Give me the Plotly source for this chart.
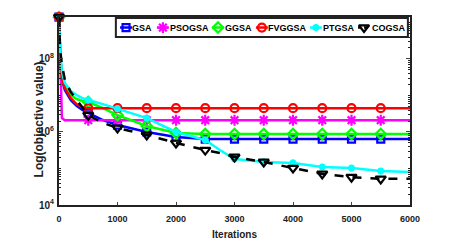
import plotly.graph_objects as go

# ---------------- data ----------------
iterations = [0, 20, 50, 100, 200, 300, 400, 500, 750, 1000, 1500, 2000,
              2500, 2750, 3000, 3500, 4000, 4500, 5000, 5500, 6000]

gsa = [1.4e9, 1.29e8, 2.7e7, 1.42e7, 7.5e6, 5.2e6, 4.0e6, 3.3e6, 2.13e6, 1.55e6,
       1.0e6, 7.3e5, 6.4e5, 6.4e5, 6.4e5, 6.4e5, 6.4e5, 6.4e5, 6.4e5, 6.4e5, 6.4e5]
psogsa = [1.4e9, 9.4e7, 2.4e6, 2.1e6, 2.1e6, 2.1e6, 2.1e6, 2.1e6, 2.1e6, 2.1e6,
          2.1e6, 2.1e6, 2.1e6, 2.1e6, 2.1e6, 2.1e6, 2.1e6, 2.1e6, 2.1e6, 2.1e6, 2.1e6]
ggsa = [1.4e9, 1.29e8, 3.0e7, 1.82e7, 1.03e7, 8.0e6, 7.1e6, 6.6e6, 4.5e6, 2.9e6,
        1.46e6, 9.4e5, 8.8e5, 8.8e5, 8.8e5, 8.8e5, 8.8e5, 8.8e5, 8.8e5, 8.8e5, 8.8e5]
fvggsa = [1.4e9, 1.29e8, 2.7e7, 1.6e7, 8.5e6, 5.8e6, 4.8e6, 4.5e6, 4.5e6, 4.5e6,
          4.5e6, 4.5e6, 4.5e6, 4.5e6, 4.5e6, 4.5e6, 4.5e6, 4.5e6, 4.5e6, 4.5e6, 4.5e6]
ptgsa = [1.4e9, 1.77e8, 4.4e7, 2.2e7, 1.33e7, 1.03e7, 8.5e6, 7.5e6, 5.8e6, 4.3e6,
         2.4e6, 1.0e6, 6.0e5, 3.2e5, 1.82e5, 1.51e5, 1.42e5, 1.10e5, 1.03e5, 8.5e4, 8.0e4]
cogsa = [1.4e9, 1.77e8, 6.9e7, 2.7e7, 1.25e7, 7.5e6, 4.5e6, 2.9e6, 1.77e6, 1.29e6,
         8.3e5, 5.0e5, 3.2e5, 2.66e5, 2.07e5, 1.51e5, 1.03e5, 7.1e4, 5.8e4, 5.2e4, 5.2e4]

series_names = ["GSA", "PSOGSA", "GGSA", "FVGGSA", "PTGSA", "COGSA"]
series_values = [gsa, psogsa, ggsa, fvggsa, ptgsa, cogsa]

x_ticks = [0, 1000, 2000, 3000, 4000, 5000, 6000]
y_ticks = [1e4, 1e6, 1e8]
y_tick_labels = ["10<sup>4</sup>", "10<sup>6</sup>", "10<sup>8</sup>"]
marker_step = 500

# ---------------- styles ----------------
styles = [
    dict(color="#0000FF", symbol="square-open", size=7, dash="solid"),
    dict(color="#FF00FF", symbol="asterisk-open", size=9, dash="solid"),
    dict(color="#00FF00", symbol="diamond-open", size=8, dash="solid"),
    dict(color="#FF0000", symbol="circle-open", size=8, dash="solid"),
    dict(color="#00FFFF", symbol="asterisk-open", size=6, dash="solid"),
    dict(color="#000000", symbol="triangle-down-open", size=9, dash="dash"),
]

FONT = "Liberation Sans, Arial, sans-serif"

fig = go.Figure()

for name, vals, st in zip(series_names, series_values, styles):
    fig.add_trace(go.Scatter(
        x=iterations, y=vals, mode="lines", name=name, showlegend=False,
        line=dict(color=st["color"], width=2.5, dash=st["dash"]),
    ))
    mx = [x for x in iterations if x % marker_step == 0 and x < iterations[-1]]
    my = [v for x, v in zip(iterations, vals) if x % marker_step == 0 and x < iterations[-1]]
    fig.add_trace(go.Scatter(
        x=mx, y=my, mode="markers", showlegend=False, cliponaxis=False,
        marker=dict(symbol=st["symbol"], size=st["size"], color=st["color"],
                    line=dict(color=st["color"], width=2.2)),
    ))

# ---------------- custom legend (plot-area fractions) ----------------
leg_box = dict(x0=0.162, x1=0.994, y0=0.894, y1=0.995)
leg_sym_x = [0.191, 0.296, 0.453, 0.578, 0.732, 0.869]
leg_text_x = [0.208, 0.316, 0.473, 0.595, 0.752, 0.892]
leg_y = 0.944
leg_half = 0.017

fig.add_shape(type="rect", xref="paper", yref="paper", **leg_box,
              line=dict(color="#222222", width=2), fillcolor="white", layer="below")

for name, st, sx, tx in zip(series_names, styles, leg_sym_x, leg_text_x):
    fig.add_trace(go.Scatter(
        x=[sx - leg_half, sx + leg_half], y=[leg_y, leg_y], mode="lines",
        xaxis="x2", yaxis="y2", showlegend=False, hoverinfo="skip",
        line=dict(color=st["color"], width=2.5, dash="solid" if st["dash"] == "solid" else "dot"),
    ))
    fig.add_trace(go.Scatter(
        x=[sx], y=[leg_y], mode="markers", xaxis="x2", yaxis="y2",
        showlegend=False, hoverinfo="skip", cliponaxis=False,
        marker=dict(symbol=st["symbol"], size=st["size"], color=st["color"],
                    line=dict(color=st["color"], width=2.2)),
    ))
    fig.add_annotation(x=tx, y=leg_y, xref="paper", yref="paper", text=name,
                       showarrow=False, xanchor="left", yanchor="middle",
                       xshift=-2,
                       font=dict(family=FONT, size=9, color="black", weight="bold"))

# axis titles
fig.add_annotation(x=-0.057, y=0.455, xref="paper", yref="paper",
                   text="Log(objective value)", textangle=-90, showarrow=False,
                   xanchor="center", yanchor="middle",
                   font=dict(family=FONT, size=12, color="#222222", weight="bold"))
fig.add_annotation(x=0.5, y=-0.155, xref="paper", yref="paper",
                   text="Iterations", showarrow=False,
                   xanchor="center", yanchor="middle",
                   font=dict(family=FONT, size=10, color="#222222", weight="bold"))

minor_y = [k * 10 ** e for e in range(4, 10) for k in range(2, 10) if k * 10 ** e < 10 ** 9.15]
minor_y += [1e5, 1e7, 1e9]

fig.update_layout(
    width=452, height=245,
    margin=dict(l=59, r=42, t=17, b=40),
    paper_bgcolor="white", plot_bgcolor="white",
    font=dict(family=FONT, size=9, color="#222222", weight="bold"),
    showlegend=False,
    xaxis=dict(range=[0, 6000], tickvals=x_ticks, ticks="inside", ticklen=3,
               tickwidth=1, showline=True, linecolor="#222222", linewidth=2,
               mirror=True, showgrid=False, zeroline=False, ticklabelstandoff=4,
               tickfont=dict(family=FONT, size=9, weight="bold")),
    yaxis=dict(type="log", range=[4, 9.15], tickvals=y_ticks, ticktext=y_tick_labels,
               ticks="inside", ticklen=4, tickwidth=1, showline=True,
               linecolor="#222222", linewidth=2, mirror="allticks", showgrid=False,
               zeroline=False, ticklabelstandoff=1,
               minor=dict(tickvals=minor_y, ticks="inside", ticklen=2,
                          tickwidth=1, tickcolor="#222222", showgrid=False),
               tickfont=dict(family=FONT, size=10, weight="bold")),
    xaxis2=dict(overlaying="x", range=[0, 1], visible=False, anchor="y2"),
    yaxis2=dict(overlaying="y", range=[0, 1], visible=False, anchor="x2"),
)

fig.write_html("out.html", config={"displayModeBar": False},
               post_script="document.body.style.margin='0';")
